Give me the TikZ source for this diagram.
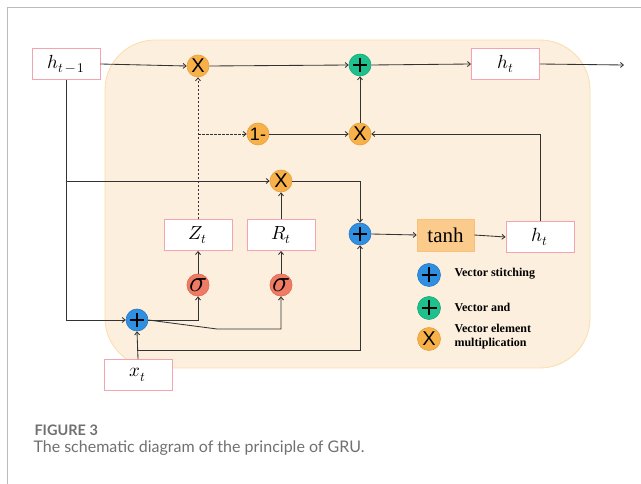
\documentclass[tikz,border=0pt]{standalone}
\usepackage{fontspec}
\usepackage{unicode-math}
\setmainfont{Liberation Serif}
\setmathfont{Latin Modern Math}
\newfontfamily\capfont{Lato}
\newfontfamily\gatefont{Liberation Sans}
\usetikzlibrary{arrows.meta}

\definecolor{panelfill}{HTML}{FDEFDD}
\definecolor{paneledge}{HTML}{FBDDA8}
\definecolor{pinkedge}{HTML}{F4A3B3}
\definecolor{orangegate}{HTML}{F8B048}
\definecolor{orangeedge}{HTML}{E4A040}
\definecolor{greengate}{HTML}{1EC08E}
\definecolor{greenedge}{HTML}{18A878}
\definecolor{bluegate}{HTML}{2F8FE0}
\definecolor{blueedge}{HTML}{2878C8}
\definecolor{redgate}{HTML}{F07B64}
\definecolor{rededge}{HTML}{E06850}
\definecolor{tanhfill}{HTML}{FBCB8C}
\definecolor{tanhedge}{HTML}{F8C07A}
\definecolor{wire}{HTML}{333333}
\definecolor{framegray}{HTML}{BBBBBB}
\definecolor{captiongray}{HTML}{707070}

\tikzset{
  wire/.style={draw=wire, line width=0.85pt},
  arr/.style={wire, -{Straight Barb[length=3pt,width=5pt]}},
  dash wire/.style={arr, dash pattern=on 2.5pt off 1.5pt},
  vecbox/.style={rectangle, draw=pinkedge, fill=white, line width=0.9pt,
    minimum width=68pt, minimum height=31pt, inner sep=0pt, font=\fontsize{19}{19}\selectfont},
  gate/.style={circle, minimum size=22pt, inner sep=0pt, line width=0.6pt},
  mulgate/.style={gate, fill=orangegate, draw=orangeedge,
    font=\gatefont\fontsize{20}{20}\selectfont},
  onegate/.style={gate, fill=orangegate, draw=orangeedge,
    font=\gatefont\fontsize{18}{18}\selectfont},
  addgate/.style={gate, fill=greengate, draw=greenedge},
  catgate/.style={gate, fill=bluegate, draw=blueedge},
  siggate/.style={gate, fill=redgate, draw=rededge, font=\fontsize{30}{30}\selectfont},
  plusmark/.style={draw=black, line width=2.4pt},
  legendtext/.style={anchor=west, font=\bfseries\fontsize{12}{14}\selectfont, align=left},
}

% draws a bold plus sign inside a circular node
\newcommand{\plusin}[2]{%
  \draw[plusmark] ([xshift=-#2]#1.center) -- ([xshift=#2]#1.center);
  \draw[plusmark] ([yshift=-#2]#1.center) -- ([yshift=#2]#1.center);}

\begin{document}
\begin{tikzpicture}[x=1pt, y=-1pt]
\useasboundingbox (0,0) rectangle (641,484);

% page frame
\draw[framegray, line width=0.9pt] (7,484) -- (7,7) -- (641,7);

% cell background
\draw[fill=panelfill, draw=paneledge, line width=0.8pt, rounded corners=50pt]
  (105,40) rectangle (590,368);

% state and gate boxes
\node[vecbox] (hprev) at (66,64) {$h_{t\,-\,1}$};
\node[vecbox] (hout) at (505.5,64) {$h_t$};
\node[vecbox] (zt) at (198,235) {$Z_t$};
\node[vecbox] (rt) at (281,235) {$R_t$};
\node[vecbox] (xt) at (138,375) {$x_t$};
\node[vecbox] (hcand) at (540,237) {$h_t$};
\node[rectangle, fill=tanhfill, draw=tanhedge, line width=0.6pt, minimum width=57pt,
  minimum height=32pt, inner sep=0pt, font=\fontsize{21}{21}\selectfont]
  (tanh) at (445.5,235) {tanh};

% operation circles
\node[mulgate] (mz) at (198,66) {X};
\node[addgate] (add) at (360,65) {};
\node[onegate] (one) at (258,134) {1-};
\node[mulgate] (mh) at (360,134) {X};
\node[mulgate] (mr) at (281,181) {X};
\node[catgate] (cat) at (137,320) {};
\node[catgate] (catc) at (360,234) {};
\node[siggate] (sz) at (198,285) {$\sigma$};
\node[siggate] (sr) at (281,285) {$\sigma$};
\plusin{add}{7pt}
\plusin{cat}{7pt}
\plusin{catc}{7pt}

\coordinate (out) at (624,65);
\coordinate (split) at (66,181);
\coordinate (zsplit) at (198,134);
\coordinate (xsplit) at (137,350);

% top path
\draw[arr] (hprev.east) -- (mz.west);
\draw[arr] (mz.east) -- (add.west);
\draw[arr] (add.east) -- (hout.west);
\draw[arr] (hout.east) -- (out);

% update gate (dashed)
\draw[dash wire] (zt.north) -- (mz.south);
\draw[dash wire] (zsplit) -- (one.west);

% 1 - z branch
\draw[arr] (one.east) -- (mh.west);
\draw[arr] (hcand.north) |- (mh.east);
\draw[arr] (mh.north) -- (add.south);

% previous state into the gates
\draw[arr] (hprev.south -| split) |- (cat.west);
\draw[arr] (split) -- (mr.west);
\draw[arr] (mr.east) -| (catc.north);
\draw[arr] (rt.north) -- (mr.south);

% sigmoid gates
\draw[arr] (sz.north) -- (zt.south);
\draw[arr] (sr.north) -- (rt.south);
\draw[arr] (cat.east) -| (sz.south);
\draw[arr] (cat.east) -- (217,329) -| (sr.south);

% input
\draw[arr] (xt.north) -- (cat.south);
\draw[arr] (xsplit) -| (catc.south);

% candidate state
\draw[arr] (catc.east) -- (tanh.west);
\draw[arr] (tanh.east) -- (hcand.west);

% legend
\node[catgate, minimum size=23pt] (lcat) at (429,275) {};
\node[addgate, minimum size=23pt] (ladd) at (429,308) {};
\node[mulgate, minimum size=23pt] (lmul) at (429,339) {X};
\plusin{lcat}{7.5pt}
\plusin{ladd}{7.5pt}
\node[legendtext] (tcat) at (451,274) {Vector stitching};
\node[legendtext] (tadd) at (451,307) {Vector and};
\node[legendtext] (tmul) at (451,337) {Vector element\\multiplication};

% caption
\node[anchor=west, text=captiongray, font=\capfont\bfseries\fontsize{14.5}{14.5}\selectfont]
  (figno) at (31,430) {FIGURE 3};
\node[anchor=west, text=captiongray, font=\capfont\fontsize{16}{16}\selectfont]
  (figcap) at (30,448) {The schematic diagram of the principle of GRU.};
\end{tikzpicture}
\end{document}
